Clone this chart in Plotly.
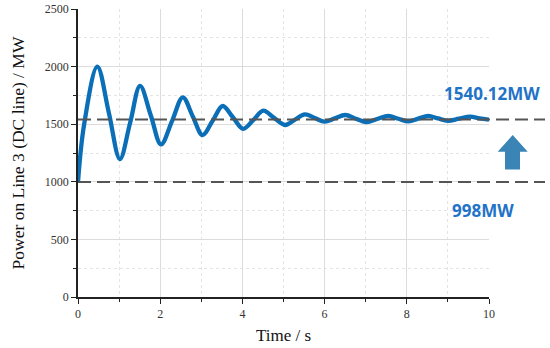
import plotly.graph_objects as go

# Data
time_s = [0, 0.15, 0.47, 0.75, 1.02, 1.27, 1.51, 1.77, 2.02, 2.29, 2.55, 2.79, 3.03, 3.28, 3.52,
          3.77, 4.02, 4.27, 4.51, 4.77, 5.04, 5.28, 5.52, 5.76, 6.0, 6.25, 6.5, 6.76, 7.02, 7.28,
          7.55, 7.8, 8.04, 8.28, 8.52, 8.76, 9.0, 9.27, 9.54, 9.77, 10.0]
power_mw = [998, 1500, 2000, 1600, 1198, 1515, 1832, 1578, 1325, 1529, 1733, 1570, 1406, 1532, 1658,
            1560, 1460, 1538, 1617, 1555, 1493, 1540, 1586, 1554, 1522, 1551, 1580, 1548, 1518, 1545,
            1571, 1547, 1524, 1548, 1571, 1550, 1530, 1548, 1565, 1550, 1540]
ref_levels = [1540.12, 998]
ref_labels = ["1540.12MW", "998MW"]

W, H = 550, 348
ML, MR, MT, MB = 78, 61, 9, 51
PW, PH = W - ML - MR, H - MT - MB

def px(x):
    return (x - ML) / PW

def py(y):
    return (H - MB - y) / PH

fig = go.Figure()
fig.add_trace(go.Scatter(x=time_s, y=power_mw, mode="lines",
                         line=dict(color="#0b6fb8", width=4.3, shape="spline", smoothing=1.0),
                         showlegend=False, hoverinfo="skip"))

shapes = []
for lv in ref_levels:
    shapes.append(dict(type="line", xref="paper", yref="y", x0=0, x1=px(545), y0=lv, y1=lv,
                       line=dict(color="#555555", width=2, dash="13px,6px"), layer="above"))

# block arrow
pts = [(512.7, 135), (527.7, 151.7), (520, 151.7), (520, 169.5), (505, 169.5), (505, 151.7), (497.7, 151.7)]
path = "M " + " L ".join(f"{px(a):.4f},{py(b):.4f}" for a, b in pts) + " Z"
shapes.append(dict(type="path", xref="paper", yref="paper", path=path,
                   fillcolor="#3a84b6", line=dict(width=0)))

annotations = [
    dict(xref="paper", yref="paper", x=px(491.5), y=py(93.5), text=ref_labels[0], showarrow=False,
         font=dict(family="Open Sans", size=17, color="#1f73c8"), xanchor="center", yanchor="middle"),
    dict(xref="paper", yref="paper", x=px(482.5), y=py(210.5), text=ref_labels[1], showarrow=False,
         font=dict(family="Open Sans", size=17, color="#1f73c8"), xanchor="center", yanchor="middle"),
]
for a in annotations:
    a["text"] = "<b>" + a["text"] + "</b>"

axis_common = dict(showline=True, linecolor="#222222", linewidth=1.5, ticks="outside", ticklen=5,
                   tickcolor="#222222", tickwidth=1.3, showgrid=True, gridcolor="#dcdcdc", gridwidth=1,
                   zeroline=False, tickfont=dict(family="Liberation Serif", size=12, color="#333333"),
                   mirror=False, automargin=False)

fig.update_layout(
    width=W, height=H, margin=dict(l=ML, r=MR, t=MT, b=MB),
    paper_bgcolor="white", plot_bgcolor="white",
    shapes=shapes, annotations=annotations,
    xaxis=dict(range=[0, 10], dtick=2, tick0=0,
               title=dict(text="Time / s", font=dict(family="Liberation Serif", size=17, color="#111111"),
                          standoff=9),
               minor=dict(dtick=1, ticklen=3, ticks="outside", tickcolor="#222222", showgrid=True,
                          gridcolor="#e4e4e4", griddash="dot"),
               **axis_common),
    yaxis=dict(range=[0, 2500], dtick=500, tick0=0,
               title=dict(text="Power on Line 3 (DC line) / MW",
                          font=dict(family="Liberation Serif", size=17.5, color="#111111"), standoff=16),
               minor=dict(dtick=250, ticklen=3, ticks="outside", tickcolor="#222222", showgrid=True,
                          gridcolor="#e4e4e4", griddash="dot"),
               **axis_common),
)

fig.write_html("out.html", config={"displayModeBar": False},
               post_script="document.body.style.margin='0';document.body.style.padding='0';")
